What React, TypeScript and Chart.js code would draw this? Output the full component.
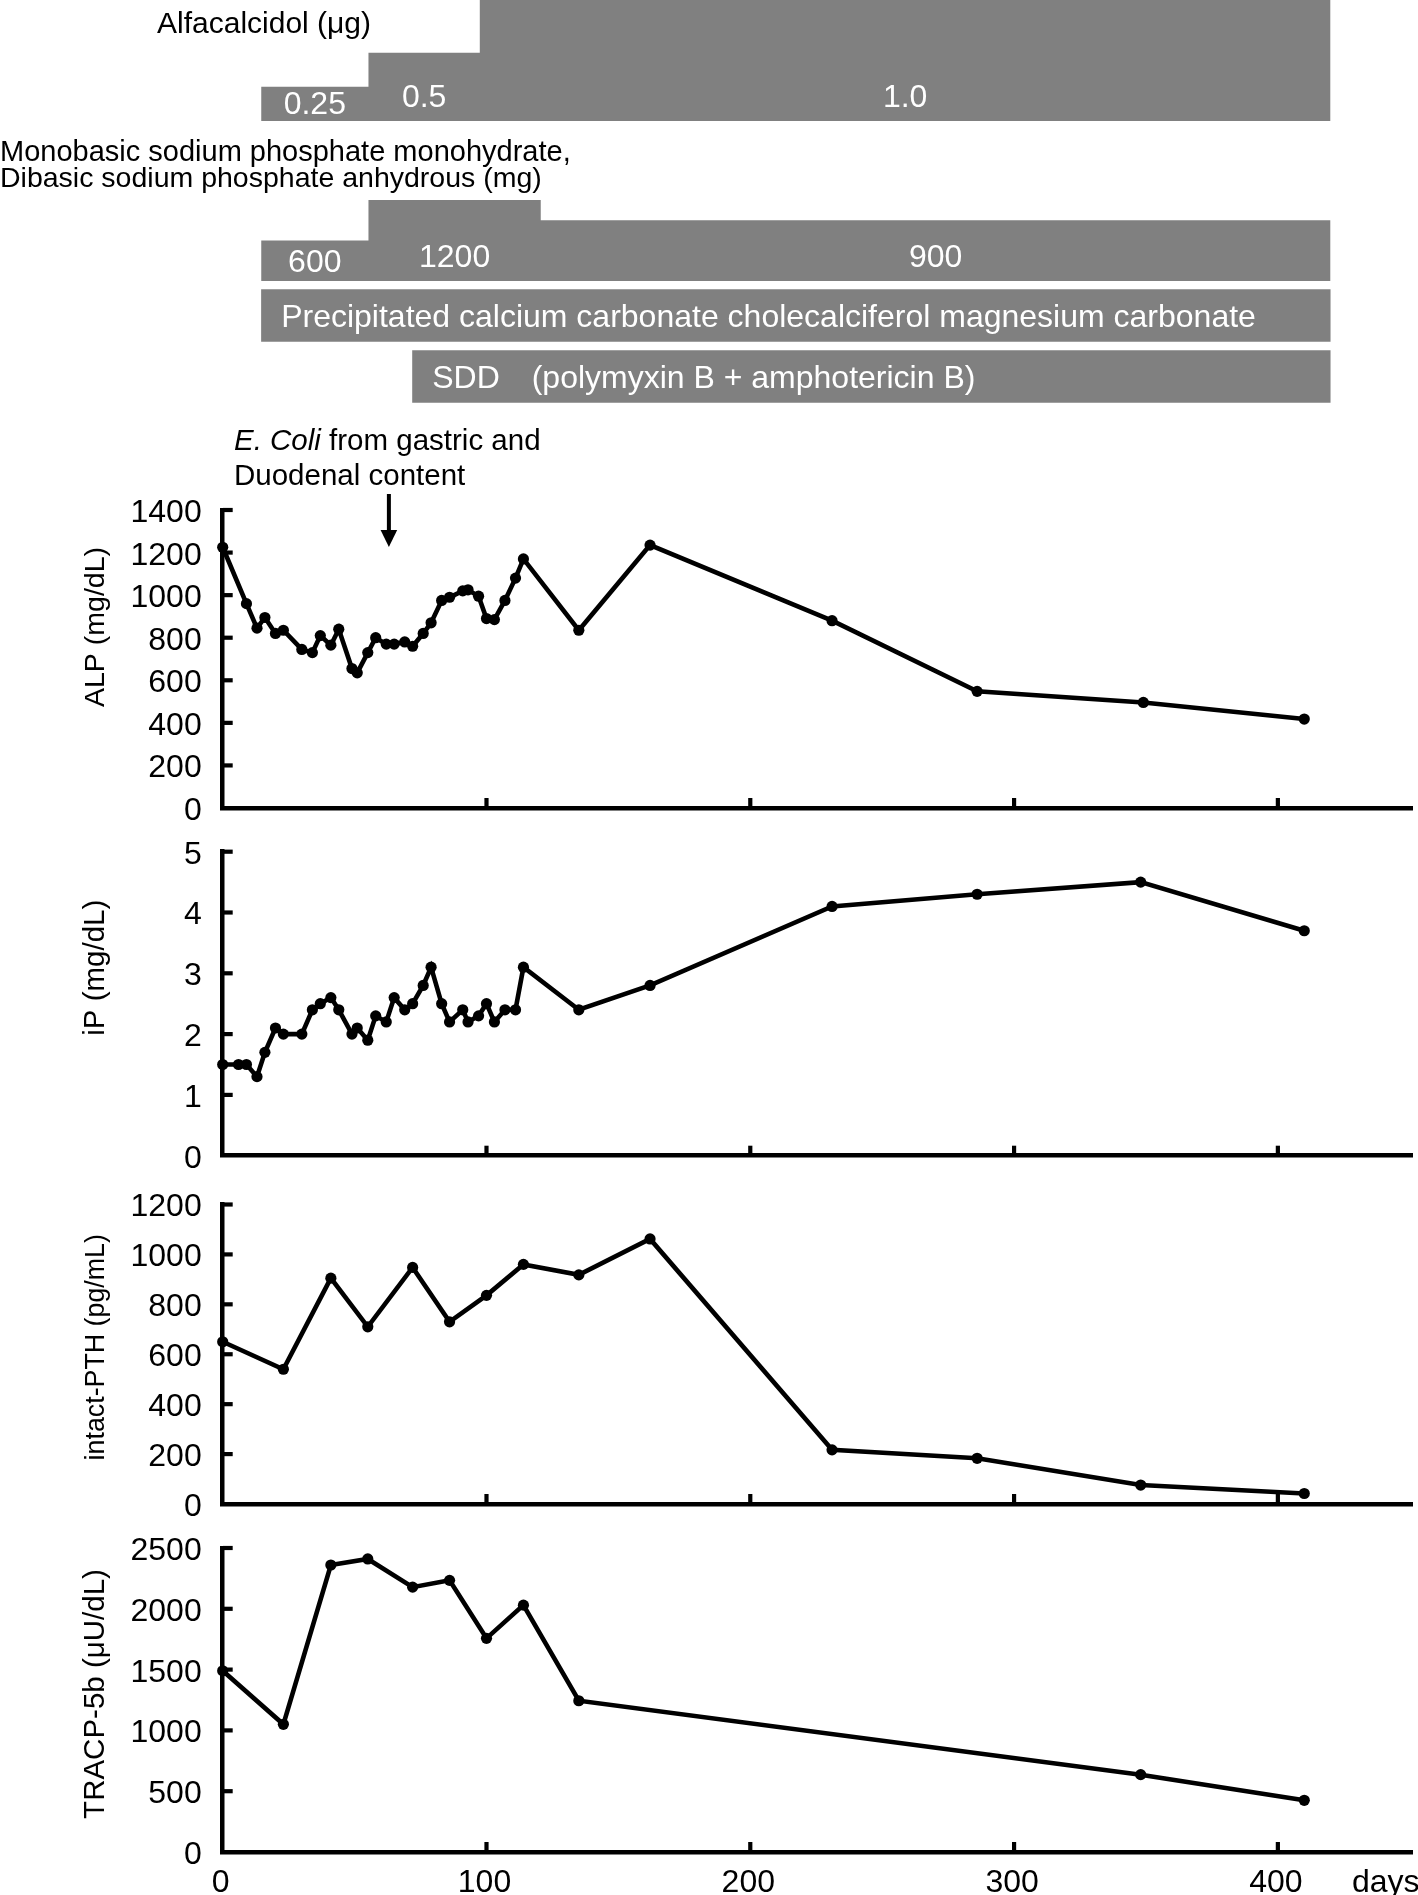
import React, { useEffect, useRef } from 'react';
import { Chart, registerables } from 'chart.js';

Chart.register(...registerables);

// ---------------- data ----------------
const alpDays = [0, 9, 13, 16, 20, 23, 30, 34, 37, 41, 44, 49, 51, 55, 58, 62, 65, 69, 72, 76, 79, 83, 86, 91, 93, 97, 100, 103, 107, 111, 114, 135, 162, 231, 286, 349, 410];
const alpValues = [1225, 960, 845, 895, 820, 835, 745, 730, 810, 765, 840, 655, 635, 730, 800, 770, 770, 780, 760, 820, 870, 975, 990, 1020, 1025, 995, 890, 885, 975, 1080, 1170, 835, 1235, 880, 548, 496, 418];

const ipDays = [0, 6, 9, 13, 16, 20, 23, 30, 34, 37, 41, 44, 49, 51, 55, 58, 62, 65, 69, 72, 76, 79, 83, 86, 91, 93, 97, 100, 103, 107, 111, 114, 135, 162, 231, 286, 348, 410];
const ipValues = [1.5, 1.5, 1.5, 1.3, 1.7, 2.1, 2.0, 2.0, 2.4, 2.5, 2.6, 2.4, 2.0, 2.1, 1.9, 2.3, 2.2, 2.6, 2.4, 2.5, 2.8, 3.1, 2.5, 2.2, 2.4, 2.2, 2.3, 2.5, 2.2, 2.4, 2.4, 3.1, 2.4, 2.8, 4.1, 4.3, 4.5, 3.7];

const pthDays = [0, 23, 41, 55, 72, 86, 100, 114, 135, 162, 231, 286, 348, 410];
const pthValues = [650, 540, 905, 710, 948, 730, 836, 960, 918, 1062, 217, 183, 76, 42];

const tracpDays = [0, 23, 41, 55, 72, 86, 100, 114, 135, 348, 410];
const tracpValues = [1490, 1050, 2360, 2410, 2178, 2234, 1757, 2030, 1244, 636, 425];

const alfaDays = [14.5, 55, 97, 418];
const alfaDoses = [0.25, 0.5, 1.0, 1.0];
const alfaLabels = ['0.25', '0.5', '1.0'];

const phosDays = [14.5, 55, 120, 418];
const phosDoses = [600, 1200, 900, 900];
const phosLabels = ['600', '1200', '900'];

const drugNames = ['Precipitated calcium carbonate cholecalciferol magnesium carbonate', 'SDD'];
const drugNotes = ['', '(polymyxin B + amphotericin B)'];
const drugStart = [14.5, 71.5];
const drugEnd = [418, 418];

const arrowDay = 63;

// ---------------- layout / style ----------------
const FONT = '"Liberation Sans", Arial, Helvetica, sans-serif';
const PAGE_W = 1418;
const PAGE_H = 1895;
const AXIS_LEFT = 222.7;
const X_MAX = 451;
const GRAY = '#808080';

function drawText(ctx: CanvasRenderingContext2D, text: string, x: number, y: number, o: any = {}) {
  const size = o.size ?? 28;
  const stretch = o.stretch ?? 1;
  ctx.save();
  ctx.font = `${o.italic ? 'italic ' : ''}${size}px ${FONT}`;
  ctx.fillStyle = o.color ?? '#000';
  ctx.textAlign = 'left';
  ctx.textBaseline = 'alphabetic';
  const w = ctx.measureText(text).width * stretch;
  const left = o.align === 'center' ? x - w / 2 : o.align === 'right' ? x - w : x;
  ctx.translate(left, y);
  ctx.scale(stretch, 1);
  ctx.fillText(text, 0, 0);
  ctx.restore();
  return w;
}

const TICK_FONT = { size: 32, stretch: 1 };

function panelConfig(p: any) {
  const plugin = {
    id: 'panelDecor',
    afterDraw(chart: any) {
      const { ctx, chartArea: a } = chart;
      const x = chart.scales.x;
      const y = chart.scales.y;
      ctx.save();
      ctx.strokeStyle = '#000';
      ctx.lineWidth = 4.2;
      ctx.lineCap = 'butt';
      // inward tick marks
      y.ticks.forEach((t: any) => {
        if (t.value === y.min) return;
        const py = y.getPixelForValue(t.value);
        ctx.beginPath();
        ctx.moveTo(a.left, py);
        ctx.lineTo(a.left + 10, py);
        ctx.stroke();
      });
      x.ticks.forEach((t: any) => {
        if (t.value === x.min) return;
        const px = x.getPixelForValue(t.value);
        ctx.beginPath();
        ctx.moveTo(px, a.bottom);
        ctx.lineTo(px, a.bottom - 10);
        ctx.stroke();
      });
      ctx.restore();
      // y tick labels
      y.ticks.forEach((t: any) => {
        const py = y.getPixelForValue(t.value);
        drawText(ctx, String(t.value), a.left - 21, py + 0.358 * TICK_FONT.size + 0.5, { ...TICK_FONT, align: 'right' });
      });
      // x tick labels
      if (p.showXLabels) {
        x.ticks.forEach((t: any) => {
          const px = x.getPixelForValue(t.value);
          drawText(ctx, String(t.value), px - 2, a.bottom + 39.5, { ...TICK_FONT, align: 'center' });
        });
        drawText(ctx, 'days', 1352, a.bottom + 39.5, { ...TICK_FONT });
      }
      // y title
      ctx.save();
      ctx.translate(104, (a.top + a.bottom) / 2 + p.titleShift);
      ctx.rotate(-Math.PI / 2);
      ctx.font = `${p.titleSize}px ${FONT}`;
      ctx.fillStyle = '#000';
      ctx.textAlign = 'center';
      ctx.textBaseline = 'alphabetic';
      ctx.fillText(p.title, 0, 0);
      ctx.restore();
      // annotation
      if (p.annotate) {
        const w = drawText(ctx, 'E. Coli', 234, a.top - 59.6, { size: 29.5, italic: true });
        drawText(ctx, ' from gastric and', 234 + w, a.top - 59.6, { size: 29.5 });
        drawText(ctx, 'Duodenal content', 234, a.top - 24.6, { size: 29.5 });
        const ax = x.getPixelForValue(arrowDay);
        ctx.save();
        ctx.strokeStyle = '#000';
        ctx.fillStyle = '#000';
        ctx.lineWidth = 4;
        ctx.beginPath();
        ctx.moveTo(ax, a.top - 16);
        ctx.lineTo(ax, a.top + 22);
        ctx.stroke();
        ctx.beginPath();
        ctx.moveTo(ax - 8.3, a.top + 20);
        ctx.lineTo(ax + 8.3, a.top + 20);
        ctx.lineTo(ax, a.top + 37);
        ctx.closePath();
        ctx.fill();
        ctx.restore();
      }
    },
  };
  return {
    type: 'line',
    data: {
      datasets: [
        {
          data: p.days.map((d: number, i: number) => ({ x: d, y: p.values[i] })),
          borderColor: '#000',
          backgroundColor: '#000',
          borderWidth: 4.6,
          pointRadius: 5.6,
          pointBackgroundColor: '#000',
          pointBorderWidth: 0,
          tension: 0,
          clip: false,
        },
      ],
    },
    options: {
      animation: false,
      responsive: false,
      devicePixelRatio: 1,
      events: [],
      layout: { padding: { left: 0, right: 0, top: p.padTop, bottom: p.padBottom } },
      plugins: { legend: { display: false }, tooltip: { enabled: false } },
      scales: {
        x: {
          type: 'linear',
          min: 0,
          max: X_MAX,
          grid: { display: false },
          border: { display: true, color: '#000', width: 4.5 },
          ticks: { display: false, stepSize: 100, includeBounds: false },
          afterFit: (s: any) => { s.height = 0; },
        },
        y: {
          type: 'linear',
          min: 0,
          max: p.yMax,
          grid: { display: false },
          border: { display: true, color: '#000', width: 4.5 },
          ticks: { display: false, stepSize: p.yStep },
          afterFit: (s: any) => { s.width = AXIS_LEFT; },
        },
      },
    },
    plugins: [plugin],
  };
}

function stepConfig(days: number[], doses: number[], labels: string[], yMax: number, header: (ctx: any, a: any) => void) {
  const plugin = {
    id: 'stepDecor',
    afterDraw(chart: any) {
      const { ctx, chartArea: a } = chart;
      const x = chart.scales.x;
      const y = chart.scales.y;
      const base = y.getPixelForValue(0);
      for (let i = 0; i < labels.length; i++) {
        const cx = x.getPixelForValue((days[i] + days[i + 1]) / 2);
        const top = Math.max(y.getPixelForValue(doses[i]), a.top);
        const mid = (top + base) / 2;
        const bl = Math.min(base - 7, Math.max(mid + 11.5, base - 14.5));
        drawText(ctx, labels[i], cx, bl, { size: 32, color: '#fff', align: 'center' });
      }
      header(ctx, a);
    },
  };
  return {
    type: 'line',
    data: {
      datasets: [
        {
          data: days.map((d, i) => ({ x: d, y: doses[i] })),
          stepped: 'before',
          fill: 'origin',
          backgroundColor: GRAY,
          borderColor: GRAY,
          borderWidth: 0,
          pointRadius: 0,
        },
      ],
    },
    options: {
      animation: false,
      responsive: false,
      devicePixelRatio: 1,
      events: [],
      layout: { padding: { left: AXIS_LEFT, right: 0, top: 0, bottom: 0 } },
      plugins: { legend: { display: false }, tooltip: { enabled: false } },
      scales: {
        x: { type: 'linear', display: false, min: 0, max: X_MAX },
        y: { type: 'linear', display: false, min: 0, max: yMax },
      },
    },
    plugins: [plugin],
  };
}

const alfaConfig = () =>
  stepConfig(alfaDays, alfaDoses, alfaLabels, 0.886, (ctx, a) => {
    drawText(ctx, 'Alfacalcidol (μg)', 157, a.top + 32.5, { size: 30 });
  });

const phosConfig = () =>
  stepConfig(phosDays, phosDoses, phosLabels, 2240, (ctx, a) => {
    drawText(ctx, 'Monobasic sodium phosphate monohydrate,', 0, a.top + 31, { size: 29 });
    drawText(ctx, 'Dibasic sodium phosphate anhydrous (mg)', 0, a.top + 57, { size: 28.5 });
  });

const drugConfig = () => {
  const plugin = {
    id: 'drugDecor',
    afterDraw(chart: any) {
      const { ctx } = chart;
      const x = chart.scales.x;
      const y = chart.scales.y;
      drugNames.forEach((name, i) => {
        const left = x.getPixelForValue(drugStart[i]);
        const cy = y.getPixelForValue(i);
        drawText(ctx, name, left + 20, cy + 11.5, { size: 32, color: '#fff' });
        if (drugNotes[i]) drawText(ctx, drugNotes[i], left + 119.5, cy + 11.5, { size: 32, color: '#fff' });
      });
    },
  };
  return {
    type: 'bar',
    data: {
      labels: drugNames,
      datasets: [
        {
          data: drugStart.map((s, i) => [s, drugEnd[i]]),
          backgroundColor: GRAY,
          borderWidth: 0,
          barPercentage: 0.864,
          categoryPercentage: 1,
        },
      ],
    },
    options: {
      indexAxis: 'y',
      animation: false,
      responsive: false,
      devicePixelRatio: 1,
      events: [],
      layout: { padding: { left: AXIS_LEFT, right: 0, top: 0, bottom: 0 } },
      plugins: { legend: { display: false }, tooltip: { enabled: false } },
      scales: {
        x: { type: 'linear', display: false, min: 0, max: X_MAX },
        y: { type: 'category', display: false },
      },
    },
    plugins: [plugin],
  };
};

const alpConfig = () =>
  panelConfig({ days: alpDays, values: alpValues, yMax: 1400, yStep: 200, title: 'ALP (mg/dL)', titleSize: 28.5, titleShift: -32, padTop: 90, padBottom: 22, annotate: true });
const ipConfig = () =>
  panelConfig({ days: ipDays, values: ipValues, yMax: 5, yStep: 1, title: 'iP (mg/dL)', titleSize: 29.5, titleShift: -36, padTop: 21.7, padBottom: 24.3 });
const pthConfig = () =>
  panelConfig({ days: pthDays, values: pthValues, yMax: 1200, yStep: 200, title: 'intact-PTH (pg/mL)', titleSize: 26.8, titleShift: -7, padTop: 24.5, padBottom: 21 });
const tracpConfig = () =>
  panelConfig({ days: tracpDays, values: tracpValues, yMax: 2500, yStep: 500, title: 'TRACP-5b (μU/dL)', titleSize: 29.5, titleShift: -6, padTop: 23, padBottom: 43, showXLabels: true });

function ChartCanvas({ top, height, config }: { top: number; height: number; config: () => any }) {
  const ref = useRef<HTMLCanvasElement>(null);
  useEffect(() => {
    const chart = new Chart(ref.current as HTMLCanvasElement, config());
    return () => chart.destroy();
  }, []);
  return (
    <canvas
      ref={ref}
      width={PAGE_W}
      height={height}
      style={{ position: 'absolute', left: 0, top, width: PAGE_W, height }}
    />
  );
}

export default function App() {
  return (
    <div style={{ position: 'absolute', left: 0, top: 0, width: PAGE_W, height: PAGE_H, background: '#fff', overflow: 'hidden' }}>
      <ChartCanvas top={0} height={121} config={alfaConfig} />
      <ChartCanvas top={130} height={151} config={phosConfig} />
      <ChartCanvas top={285} height={122} config={drugConfig} />
      <ChartCanvas top={420} height={410} config={alpConfig} />
      <ChartCanvas top={830} height={350} config={ipConfig} />
      <ChartCanvas top={1180} height={345} config={pthConfig} />
      <ChartCanvas top={1525} height={370} config={tracpConfig} />
    </div>
  );
}
